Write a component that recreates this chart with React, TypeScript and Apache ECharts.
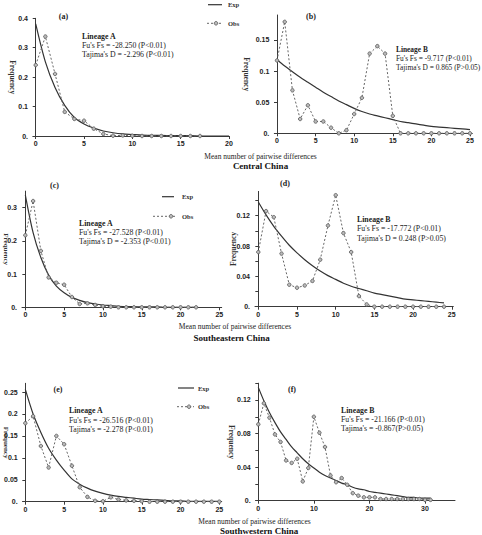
import React, { useEffect, useRef } from "react";
import * as echarts from "echarts";

// ---- text ----
const panelLabels = ["(a)", "(b)", "(c)", "(d)", "(e)", "(f)"];
const lineageNames = ["Lineage A", "Lineage B", "Lineage A", "Lineage B", "Lineage A", "Lineage B"];
const fuTexts = [
  "Fu's Fs = -28.250 (P<0.01)",
  "Fu's Fs = -9.717 (P<0.01)",
  "Fu's Fs = -27.528 (P<0.01)",
  "Fu's Fs = -17.772 (P<0.01)",
  "Fu's Fs = -26.516 (P<0.01)",
  "Fu's Fs = -21.166 (P<0.01)",
];
const tajimaTexts = [
  "Tajima's D = -2.296 (P<0.01)",
  "Tajima's D = 0.865 (P>0.05)",
  "Tajima's D = -2.353 (P<0.01)",
  "Tajima's D = 0.248 (P>0.05)",
  "Tajima's = -2.278 (P<0.01)",
  "Tajima's = -0.867(P>0.05)",
];
const regionNames = ["Central China", "Southeastern China", "Southwestern China"];
const xAxisTitle = "Mean number of pairwise differences";
const yAxisTitle = "Frequency";
const legendNames = ["Exp", "Obs"];

// ---- data (x = 0,1,2,...) ----
const obsA = [0.241, 0.338, 0.211, 0.082, 0.058, 0.052, 0.025, 0.007, 0.001, 0.002, 0.001, 0, 0, 0, 0, 0, 0, 0];
const expA = [0.381, 0.252, 0.165, 0.104, 0.063, 0.041, 0.027, 0.017, 0.011, 0.007, 0.005, 0.003, 0.002, 0.002, 0.001, 0.001, 0.001, 0, 0, 0, 0];

const obsB = [0.117, 0.179, 0.069, 0.023, 0.045, 0.019, 0.019, 0.009, 0, 0.005, 0.031, 0.057, 0.128, 0.14, 0.128, 0.028, 0, 0, 0, 0, 0, 0, 0, 0, 0, 0];
const expB = [0.118, 0.108, 0.099, 0.09, 0.082, 0.074, 0.066, 0.059, 0.052, 0.046, 0.04, 0.035, 0.031, 0.028, 0.025, 0.022, 0.019, 0.017, 0.015, 0.013, 0.011, 0.01, 0.009, 0.008, 0.007, 0.006];

const obsC = [0.217, 0.32, 0.17, 0.09, 0.074, 0.068, 0.031, 0.01, 0.012, 0.007, 0.003, 0.002, 0, 0, 0, 0, 0, 0, 0, 0, 0, 0, 0];
const expC = [0.338, 0.225, 0.15, 0.097, 0.064, 0.044, 0.03, 0.021, 0.014, 0.01, 0.007, 0.005, 0.003, 0.002, 0.002, 0.001, 0.001, 0.001, 0, 0, 0, 0, 0];

const obsD = [0.072, 0.126, 0.118, 0.07, 0.029, 0.025, 0.028, 0.034, 0.062, 0.107, 0.147, 0.097, 0.072, 0.014, 0.003, 0, 0, 0, 0, 0, 0, 0, 0, 0, 0];
const expD = [0.138, 0.121, 0.106, 0.093, 0.081, 0.071, 0.062, 0.054, 0.047, 0.041, 0.036, 0.031, 0.027, 0.024, 0.021, 0.018, 0.016, 0.014, 0.012, 0.01, 0.009, 0.008, 0.007, 0.006, 0.005];

const obsE = [0.179, 0.195, 0.127, 0.078, 0.15, 0.131, 0.082, 0.033, 0.011, 0.002, 0.001, 0.01, 0.005, 0.003, 0.002, 0.001, 0, 0, 0, 0, 0, 0, 0, 0, 0, 0];
const expE = [0.256, 0.2, 0.158, 0.122, 0.095, 0.072, 0.052, 0.04, 0.031, 0.024, 0.019, 0.015, 0.012, 0.01, 0.008, 0.006, 0.005, 0.004, 0.003, 0.002, 0.002, 0.001, 0.001, 0.001, 0.001, 0.001];

const obsF = [0.091, 0.116, 0.099, 0.079, 0.07, 0.048, 0.045, 0.05, 0.023, 0.039, 0.1, 0.081, 0.064, 0.03, 0.022, 0.027, 0.019, 0.009, 0.006, 0.004, 0.004, 0.004, 0.002, 0.002, 0.002, 0.002, 0.002, 0.002, 0.002, 0.002, 0.001, 0.001];
const expF = [0.135, 0.119, 0.105, 0.093, 0.082, 0.073, 0.064, 0.057, 0.05, 0.044, 0.039, 0.034, 0.03, 0.027, 0.024, 0.021, 0.019, 0.016, 0.014, 0.013, 0.011, 0.01, 0.009, 0.008, 0.007, 0.006, 0.005, 0.004, 0.004, 0.003, 0.003, 0.003];

const obsSeries = [obsA, obsB, obsC, obsD, obsE, obsF];
const expSeries = [expA, expB, expC, expD, expE, expF];

// ---- tick values ----
const xTicks = [
  [0, 5, 10, 15, 20],
  [0, 5, 10, 15, 20, 25],
  [0, 5, 10, 15, 20, 25],
  [0, 5, 10, 15, 20, 25],
  [0, 5, 10, 15, 20, 25],
  [0, 10, 20, 30],
];
const yTicks = [
  [0, 0.1, 0.2, 0.3, 0.4],
  [0, 0.05, 0.1, 0.15],
  [0, 0.1, 0.2, 0.3],
  [0, 0.02, 0.04, 0.06, 0.08, 0.1, 0.12, 0.14],
  [0, 0.05, 0.1, 0.15, 0.2, 0.25],
  [0, 0.02, 0.04, 0.06, 0.08, 0.1, 0.12, 0.14],
];
const yLabels = [
  [0, 0.1, 0.2, 0.3, 0.4],
  [0, 0.05, 0.1, 0.15],
  [0, 0.1, 0.2, 0.3],
  [0, 0.04, 0.08, 0.12],
  [0, 0.05, 0.1, 0.15, 0.2, 0.25],
  [0, 0.04, 0.08, 0.12],
];

// ---- layout (pixels) ----
const layouts = [
  { l: 33, t: 18.3, r: 229, b: 136, xMin: -0.28, xMax: 20, yMax: 0.4, lab: [63.5, 16], txt: [82, 36], nameRot: -90, nameGap: 17, nameFs: 7.5, fs: 7.8 },
  { l: 274.3, t: 15, r: 472.3, b: 133.3, xMin: -0.35, xMax: 25.3, yMax: 0.19, lab: [311, 16], txt: [396, 49], nameRot: -90, nameGap: 23.5, nameFs: 7.5, fs: 7.4 },
  { l: 22, t: 191.1, r: 221.7, b: 307.3, xMin: -0.43, xMax: 25.3, yMax: 0.35, lab: [54.5, 185.7], txt: [79, 223], nameRot: -90, nameGap: 13, nameFs: 7, fs: 7.8 },
  { l: 255, t: 191.4, r: 453.3, b: 306.7, xMin: -0.43, xMax: 25.2, yMax: 0.152, lab: [285, 183.3], txt: [357, 219.3], nameRot: 90, nameGap: 18, nameFs: 7.5, fs: 7.8 },
  { l: 22.7, t: 383.3, r: 221.7, b: 501.7, xMin: -0.34, xMax: 25.3, yMax: 0.27, lab: [58, 389], txt: [69, 410.7], nameRot: -90, nameGap: 13.5, nameFs: 7, fs: 7.8 },
  { l: 255.7, t: 383.2, r: 455, b: 500.7, xMin: -0.47, xMax: 35.4, yMax: 0.14, lab: [292, 389], txt: [341, 410], nameRot: -90, nameGap: 20, nameFs: 7.5, fs: 7.8 },
];
const rowTitles = [
  { xName: [260.5, 156.3], region: [260.5, 166] },
  { xName: [235, 326.7], region: [231.5, 337.7] },
  { xName: [254.5, 521], region: [259, 531] },
];
const legendPos = [
  { e: [208, 222, 4.7], o: [207, 223, 216, 23.3], tx: 228 },
  { e: [162, 174, 196.7], o: [153, 176, 171, 216.3], tx: 182 },
  { e: [178, 194, 388], o: [177, 194, 189, 406.7], tx: 198 },
];

const SERIF = '"Liberation Serif", "Times New Roman", serif';
const SANS = '"Liberation Sans", Arial, sans-serif';
const AXIS = "#3a3a3a";
const EXP_COLOR = "#333";
const OBS_COLOR = "#666";

export default function App() {
  const ref = useRef<HTMLDivElement>(null);
  useEffect(() => {
    if (!ref.current) return;
    const chart = echarts.init(ref.current, null, { renderer: "svg" });

    const grids: any[] = [];
    const xAxes: any[] = [];
    const yAxes: any[] = [];
    const series: any[] = [];
    const graphics: any[] = [];

    layouts.forEach((p, i) => {
      grids.push({
        left: p.l,
        top: p.t,
        width: p.r - p.l,
        height: p.b - p.t,
        containLabel: false,
        outerBoundsMode: "none",
      });
      xAxes.push({
        type: "value",
        gridIndex: i,
        min: p.xMin,
        max: p.xMax,
        splitLine: { show: false },
        axisLine: { show: true, lineStyle: { color: AXIS, width: 1 } },
        axisTick: { show: true, length: 3, lineStyle: { color: AXIS }, customValues: xTicks[i] },
        axisLabel: {
          customValues: xTicks[i],
          margin: 4,
          fontSize: 7,
          fontWeight: "bold",
          fontFamily: SANS,
          color: "#222",
        },
      });
      yAxes.push({
        type: "value",
        gridIndex: i,
        min: 0,
        max: p.yMax,
        name: yAxisTitle,
        nameLocation: "middle",
        nameGap: p.nameGap,
        nameRotate: p.nameRot,
        nameMoveOverlap: false,
        nameTextStyle: { fontFamily: SERIF, fontWeight: "bold", fontSize: p.nameFs, color: "#333" },
        splitLine: { show: false },
        axisLine: { show: true, lineStyle: { color: AXIS, width: 1 } },
        axisTick: { show: true, length: 3, lineStyle: { color: AXIS }, customValues: yTicks[i] },
        axisLabel: {
          customValues: yLabels[i],
          margin: 5,
          fontSize: 7,
          fontWeight: "bold",
          fontFamily: SANS,
          color: "#222",
          formatter: (v: number) => (v === 0 ? "0." : String(+v.toFixed(3))),
        },
      });
      series.push({
        name: legendNames[0],
        type: "line",
        xAxisIndex: i,
        yAxisIndex: i,
        data: expSeries[i].map((v, k) => [k, v]),
        smooth: 0.3,
        symbol: "none",
        lineStyle: { color: EXP_COLOR, width: 1.2, type: "solid" },
        itemStyle: { color: EXP_COLOR },
        z: 3,
      });
      series.push({
        name: legendNames[1],
        type: "line",
        xAxisIndex: i,
        yAxisIndex: i,
        data: obsSeries[i].map((v, k) => [k, v]),
        symbol: "circle",
        symbolSize: 3.5,
        lineStyle: { color: OBS_COLOR, width: 1, type: [2, 2] },
        itemStyle: { color: "#bbb", borderColor: "#555", borderWidth: 0.8 },
        z: 4,
      });

      graphics.push({
        type: "text",
        x: p.lab[0],
        y: p.lab[1],
        style: {
          text: panelLabels[i],
          fontFamily: SERIF,
          fontWeight: "bold",
          fontSize: 8,
          fill: "#222",
          align: "center",
          verticalAlign: "middle",
        },
      });
      const lines = [lineageNames[i], fuTexts[i], tajimaTexts[i]];
      lines.forEach((t, k) => {
        graphics.push({
          type: "text",
          x: p.txt[0],
          y: p.txt[1] + k * 9.4,
          style: {
            text: t,
            fontFamily: SERIF,
            fontWeight: k === 0 ? "bold" : "normal",
            fontSize: p.fs,
            fill: "#222",
            align: "left",
            verticalAlign: "middle",
          },
        });
      });
    });

    rowTitles.forEach((r, i) => {
      graphics.push({
        type: "text",
        x: r.xName[0],
        y: r.xName[1],
        style: {
          text: xAxisTitle,
          fontFamily: SERIF,
          fontSize: 7.5,
          fill: "#222",
          align: "center",
          verticalAlign: "middle",
        },
      });
      graphics.push({
        type: "text",
        x: r.region[0],
        y: r.region[1],
        style: {
          text: regionNames[i],
          fontFamily: SERIF,
          fontWeight: "bold",
          fontSize: 9,
          fill: "#111",
          align: "center",
          verticalAlign: "middle",
        },
      });
    });

    // legend samples
    legendPos.forEach((lp) => {
      graphics.push({
        type: "line",
        shape: { x1: lp.e[0], y1: lp.e[2], x2: lp.e[1], y2: lp.e[2] },
        style: { stroke: EXP_COLOR, lineWidth: 1.2 },
      });
      graphics.push({
        type: "line",
        shape: { x1: lp.o[0], y1: lp.o[3], x2: lp.o[1], y2: lp.o[3] },
        style: { stroke: OBS_COLOR, lineWidth: 1, lineDash: [2, 2] },
      });
      graphics.push({
        type: "circle",
        shape: { cx: lp.o[2], cy: lp.o[3], r: 1.8 },
        style: { fill: "#bbb", stroke: "#555", lineWidth: 0.8 },
      });
      [lp.e[2], lp.o[3]].forEach((y, k) => {
        graphics.push({
          type: "text",
          x: lp.tx,
          y,
          style: {
            text: legendNames[k],
            fontFamily: SERIF,
            fontWeight: "bold",
            fontSize: 6.5,
            fill: "#333",
            align: "left",
            verticalAlign: "middle",
          },
        });
      });
    });

    chart.setOption({
      animation: false,
      backgroundColor: "#ffffff",
      grid: grids,
      xAxis: xAxes,
      yAxis: yAxes,
      series,
      graphic: graphics,
    });

    return () => chart.dispose();
  }, []);

  return (
    <div
      ref={ref}
      style={{ position: "absolute", left: 0, top: 0, width: 482, height: 535, background: "#fff" }}
    />
  );
}
